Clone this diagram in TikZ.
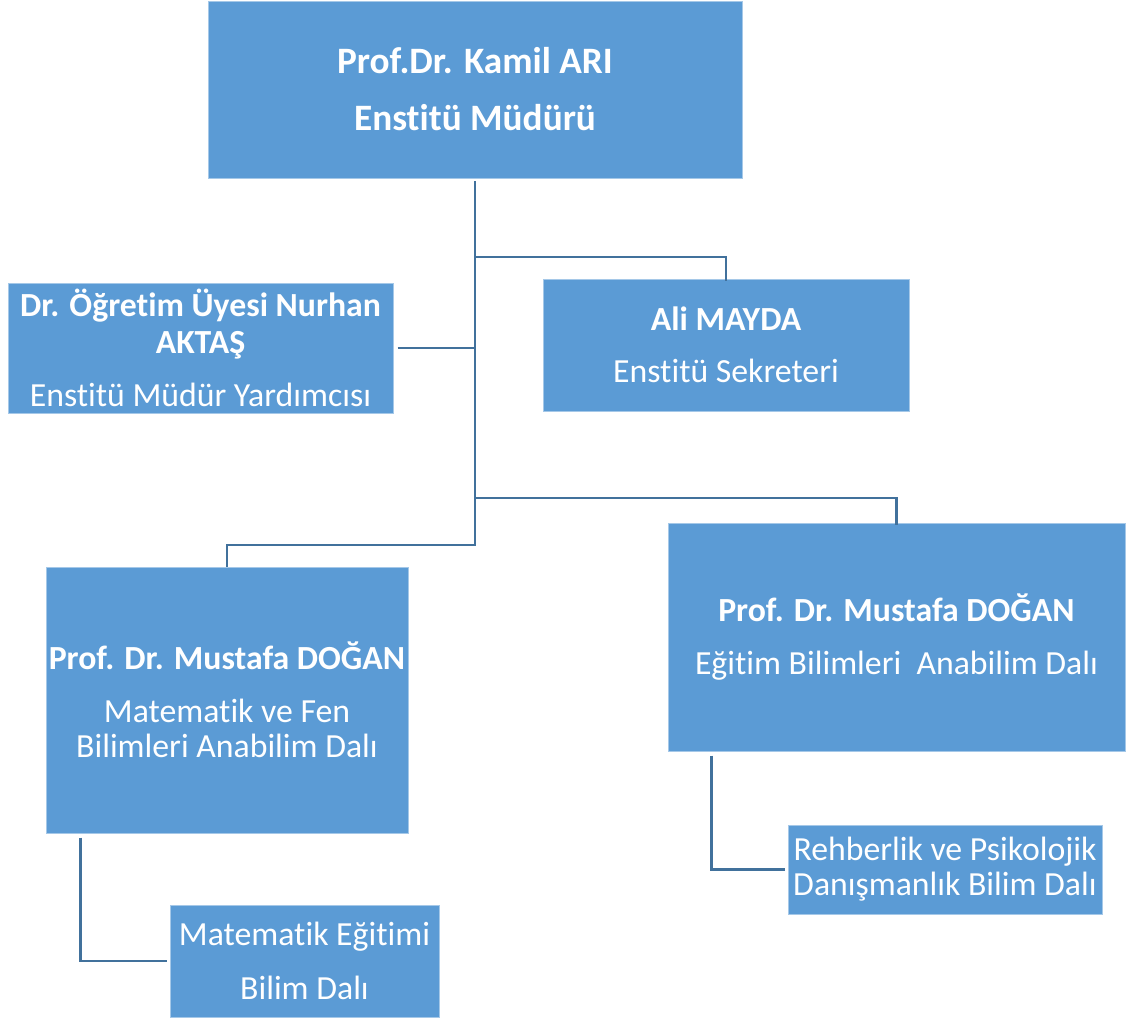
\documentclass[tikz,border=0pt]{standalone}
\usepackage{fontspec}
\setmainfont{Carlito}[Ligatures=NoCommon]
\usepackage{tikz}

\definecolor{boxblue}{HTML}{5B9BD5}
\definecolor{linkblue}{HTML}{41719C}

\tikzset{
  unit/.style={rectangle, fill=boxblue, draw=boxblue!55!white, line width=0.6pt,
    text=white, align=center, inner sep=0pt,
    font=\fontsize{24}{25}\selectfont},
  link/.style={draw=linkblue, line width=2.1pt}
}

\begin{document}
\begin{tikzpicture}[x=0.025cm, y=-0.025cm]
\useasboundingbox (0,0) rectangle (1144,1020);

% we draw the director
\node (mudur) [unit, minimum width=13.35cm, minimum height=4.425cm,
  font=\fontsize{26.5}{27.5}\selectfont] at (475,89.5)
  {\textbf{Prof.Dr. Kamil ARI}\\[13pt] \textbf{Enstitü Müdürü}};

% vice director and secretary
\node (yardimci) [unit, minimum width=9.625cm, minimum height=3.25cm] at (200.5,348)
  {\textbf{Dr. Öğretim Üyesi Nurhan}\\[1pt] \textbf{AKTAŞ}\\[12.5pt] Enstitü Müdür Yardımcısı};
\node (sekreter) [unit, minimum width=9.15cm, minimum height=3.3cm] at (726,345)
  {\textbf{Ali MAYDA}\\[12pt] Enstitü Sekreteri};

% departments
\node (matfen) [unit, minimum width=9.05cm, minimum height=6.65cm] at (227,700)
  {\textbf{Prof. Dr. Mustafa DOĞAN}\\[12.5pt] Matematik ve Fen\\ Bilimleri Anabilim Dalı};
\node (egitim) [unit, minimum width=11.425cm, minimum height=5.7cm] at (896.5,637)
  {\textbf{Prof. Dr. Mustafa DOĞAN}\\[13pt] Eğitim Bilimleri\ \ Anabilim Dalı};

% sub departments
\node (matedu) [unit, minimum width=6.725cm, minimum height=2.8cm] at (304.5,961)
  {Matematik Eğitimi\\[13pt] Bilim Dalı};
\node (rehberlik) [unit, minimum width=7.85cm, minimum height=2.225cm] at (945,869.5)
  {Rehberlik ve Psikolojik\\ Danışmanlık Bilim Dalı};

% we draw the connectors
\coordinate (kol) at (475,545);
\draw[link, shorten <=2pt] (mudur.south) -- (kol) -| (matfen.north);
\draw[link] (mudur.south |- 0,257) -| ([yshift=-2pt]sekreter.north);
\draw[link] (mudur.south |- 0,498) -| ([yshift=-2pt]egitim.north);
\draw[link] ([xshift=3pt]yardimci.east) -- (mudur.south |- yardimci.east);

\draw[link, shorten <=3pt] ([xshift=0.875cm]matfen.south west) |- ([xshift=-2pt]matedu.west);
\draw[link, shorten <=3pt] ([xshift=1.1cm]egitim.south west) |- ([xshift=-2pt]rehberlik.west);

\end{tikzpicture}
\end{document}
